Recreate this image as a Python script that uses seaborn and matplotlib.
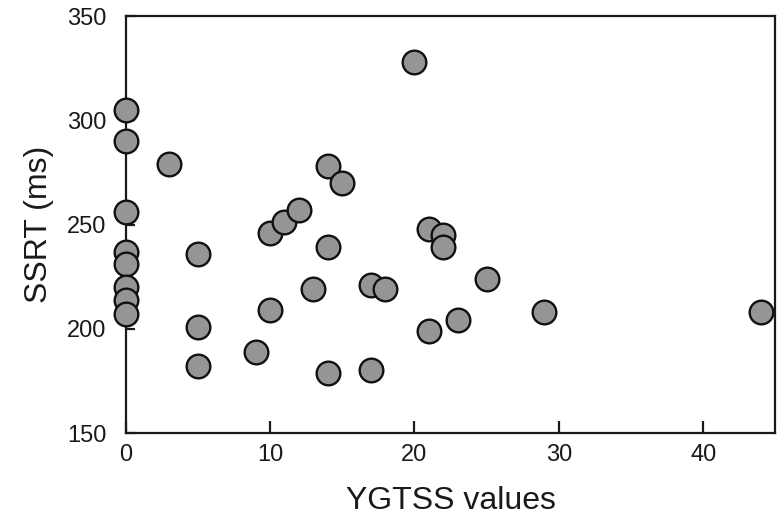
import matplotlib
matplotlib.use("Agg")
import matplotlib.pyplot as plt
import pandas as pd
import seaborn as sns

# YGTSS score vs SSRT
ygtss = [0, 0, 0, 0, 0, 0, 0, 0,
         3, 5, 5, 5, 9, 10, 10, 11, 12, 13,
         14, 14, 14, 15, 17, 17, 18, 20, 21, 21,
         22, 22, 23, 25, 29, 44]
ssrt = [305, 290, 256, 237, 231, 220, 214, 207,
        279, 236, 201, 182, 189, 246, 209, 251, 257, 219,
        278, 239, 179, 270, 221, 180, 219, 328, 248, 199,
        245, 239, 204, 224, 208, 208]

x_ticks = [0, 10, 20, 30, 40]
y_ticks = [150, 200, 250, 300, 350]

df = pd.DataFrame({"YGTSS": ygtss, "SSRT": ssrt})

sns.set_style("white")
plt.rcParams["font.family"] = ["Liberation Sans", "DejaVu Sans"]

fig = plt.figure(figsize=(7.8, 5.18), dpi=100)
ax = fig.add_axes([0.161, 0.164, 0.833, 0.805])

sns.scatterplot(
    data=df, x="YGTSS", y="SSRT", ax=ax,
    s=290, color="#959595", edgecolor="#111111", linewidth=1.7,
    clip_on=False, zorder=3,
)

ax.set_xlim(0, 45)
ax.set_ylim(150, 350)
ax.set_xticks(x_ticks)
ax.set_yticks(y_ticks)

for side in ["left", "bottom", "top", "right"]:
    ax.spines[side].set_visible(True)
    ax.spines[side].set_color("#1a1a1a")
    ax.spines[side].set_linewidth(1.6)

ax.tick_params(axis="x", direction="in", length=8.5, width=1.6, pad=8,
               labelsize=17, colors="#1a1a1a", bottom=True, top=False)
ax.tick_params(axis="y", direction="in", length=6.5, width=1.6, pad=14,
               labelsize=17, colors="#1a1a1a", left=True, right=False)

ax.set_xlabel("YGTSS values", fontsize=23, color="#1a1a1a", labelpad=14)
ax.set_ylabel("SSRT (ms)", fontsize=23, color="#1a1a1a", labelpad=9)

fig.savefig("out.png", dpi=100)
